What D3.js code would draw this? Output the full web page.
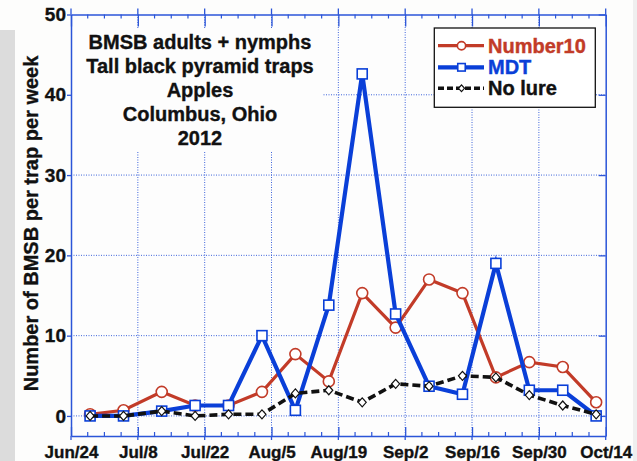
<!DOCTYPE html>
<html>
<head>
<meta charset="utf-8">
<script src="https://cdn.jsdelivr.net/npm/d3@7"></script>
<style>
  html, body { margin: 0; padding: 0; background: #fdfdfc; }
  svg { display: block; }
  text { font-family: "Liberation Sans", Arial, Helvetica, sans-serif; font-weight: bold; }
</style>
</head>
<body>
<script>
// ---- data ----
const dates = ["2012-06-28","2012-07-05","2012-07-13","2012-07-20","2012-07-27","2012-08-03","2012-08-10","2012-08-17","2012-08-24","2012-08-31","2012-09-07","2012-09-14","2012-09-21","2012-09-28","2012-10-05","2012-10-12"];
const number10 = [0.2, 0.7, 3.0, 1.3, 1.3, 3.0, 7.7, 4.3, 15.3, 11.0, 17.0, 15.3, 4.8, 6.7, 6.1, 1.7];
const mdt      = [0, 0, 0.6, 1.3, 1.3, 10.0, 0.7, 13.8, 42.6, 12.7, 3.7, 2.7, 19.0, 3.2, 3.2, 0];
const noLure   = [0, 0, 0.6, 0, 0.2, 0.2, 2.8, 3.2, 1.7, 4.0, 3.7, 5.0, 4.8, 2.6, 1.3, 0.2];
const seriesNames = ["Number10", "MDT", "No lure"];
const tickDates = ["2012-06-24","2012-07-08","2012-07-22","2012-08-05","2012-08-19","2012-09-02","2012-09-16","2012-09-30","2012-10-14"];
const tickLabels = ["Jun/24","Jul/8","Jul/22","Aug/5","Aug/19","Sep/2","Sep/16","Sep/30","Oct/14"];
const yTicks = [0, 10, 20, 30, 40, 50];
const titleLines = ["BMSB adults + nymphs", "Tall black pyramid traps", "Apples", "Columbus, Ohio", "2012"];
const yLabel = "Number of BMSB per trap per week";

// ---- setup ----
const W = 637, H = 461;
const parse = d3.utcParse("%Y-%m-%d");
const L = 71, R = 605.7, T = 14.5, B = 436;
const svg = d3.select("body").append("svg").attr("width", W).attr("height", H);

// background decorations
svg.append("rect").attr("x", 0).attr("y", 0).attr("width", W).attr("height", H).attr("fill", "#fdfdfc");
svg.append("rect").attr("x", 0).attr("y", 30).attr("width", 15).attr("height", H - 30).attr("fill", "#dcdcdc");
svg.append("rect").attr("x", 633).attr("y", 0).attr("width", 4).attr("height", H).attr("fill", "#efefef");

const x = d3.scaleUtc().domain([parse(tickDates[0]), parse(tickDates[tickDates.length - 1])]).range([L, R]);
const y = d3.scaleLinear().domain([-2.5, 50]).range([B, T]);

const axisColor = "#2b55d8";
const gridColor = "#2b55d8";

// plot background
svg.append("rect").attr("x", L).attr("y", T).attr("width", R - L).attr("height", B - T).attr("fill", "#fdfdfd");

// grid
const grid = svg.append("g");
grid.selectAll("line.v").data(tickDates.slice(1, -1)).join("line")
  .attr("x1", d => x(parse(d))).attr("x2", d => x(parse(d)))
  .attr("y1", T).attr("y2", B)
  .attr("stroke", gridColor).attr("stroke-width", 1).attr("stroke-dasharray", "1,1.5").attr("opacity", 0.9);
grid.selectAll("line.h").data(yTicks.slice(0, -1)).join("line")
  .attr("x1", L).attr("x2", R)
  .attr("y1", d => y(d)).attr("y2", d => y(d))
  .attr("stroke", gridColor).attr("stroke-width", 1).attr("stroke-dasharray", "1,1.5").attr("opacity", 0.9);

// title block background (covers grid)
svg.append("rect").attr("x", 72).attr("y", 28).attr("width", 250).attr("height", 124).attr("fill", "#fdfdfd");

// axes
function styleAxis(g) {
  g.select(".domain").attr("stroke", axisColor).attr("stroke-width", 1.5);
  g.selectAll(".tick line").attr("stroke", axisColor).attr("stroke-width", 1.3);
  g.selectAll("text").attr("fill", "#111").attr("stroke", "#111").attr("stroke-width", 0.35)
    .style("font-family", "'Liberation Sans', Arial, sans-serif").style("font-weight", "bold");
}
const dt = tickDates.map(parse);
svg.append("g").attr("transform", `translate(0,${B})`)
  .call(d3.axisBottom(x).tickValues(dt).tickFormat((d, i) => tickLabels[i]).tickSize(-9).tickSizeOuter(0).tickPadding(10))
  .call(styleAxis).call(g => g.selectAll("text").attr("font-size", 17));
svg.append("g").attr("transform", `translate(0,${T})`)
  .call(d3.axisTop(x).tickValues(dt).tickFormat("").tickSize(-12).tickSizeOuter(0))
  .call(styleAxis);
svg.append("g").attr("transform", `translate(${L},0)`)
  .call(d3.axisLeft(y).tickValues(yTicks).tickSize(4).tickSizeOuter(0).tickPadding(1))
  .call(styleAxis).call(g => g.selectAll("text").attr("font-size", 19));
svg.append("g").attr("transform", `translate(${R},0)`)
  .call(d3.axisRight(y).tickValues(yTicks).tickFormat("").tickSize(-7).tickSizeOuter(0))
  .call(styleAxis);

// major tick outward stubs on bottom/top
svg.append("g").selectAll("line").data(dt).join("line")
  .attr("x1", d => x(d)).attr("x2", d => x(d)).attr("y1", B).attr("y2", B + 4)
  .attr("stroke", axisColor).attr("stroke-width", 1.3);
svg.append("g").selectAll("line").data(dt).join("line")
  .attr("x1", d => x(d)).attr("x2", d => x(d)).attr("y1", T).attr("y2", T - 6)
  .attr("stroke", axisColor).attr("stroke-width", 1.3);

// minor ticks (quarters between majors)
const minor = [];
for (let i = 0; i < dt.length - 1; i++) for (let k = 1; k < 4; k++) minor.push(d3.utcHour.offset(dt[i], 84 * k));
[[B, -4], [T, 4]].forEach(([yy, len]) => {
  svg.append("g").selectAll("line").data(minor).join("line")
    .attr("x1", d => x(d)).attr("x2", d => x(d)).attr("y1", yy).attr("y2", yy + len)
    .attr("stroke", axisColor).attr("stroke-width", 1.2);
});

// series
const red = "#c23b28", blue = "#0a3fd8", black = "#111";
const line = d3.line().x(d => x(d[0])).y(d => y(d[1]));
const mk = vals => dates.map((d, i) => [parse(d), vals[i]]);
const series = [
  { name: seriesNames[0], data: mk(number10), color: red, width: 3.2, dash: null, marker: "circle" },
  { name: seriesNames[1], data: mk(mdt), color: blue, width: 4.2, dash: null, marker: "square" },
  { name: seriesNames[2], data: mk(noLure), color: black, width: 3.6, dash: "8,4", marker: "diamond" }
];
function drawMarker(g, type, cx, cy, color, s) {
  if (type === "circle") g.append("circle").attr("cx", cx).attr("cy", cy).attr("r", 5.5 * s).attr("fill", "#fff").attr("stroke", color).attr("stroke-width", 1.6);
  else if (type === "square") g.append("rect").attr("x", cx - 5 * s).attr("y", cy - 5 * s).attr("width", 10 * s).attr("height", 10 * s).attr("fill", "#fff").attr("stroke", color).attr("stroke-width", 1.6);
  else g.append("path").attr("d", `M${cx},${cy - 4.5 * s}L${cx + 4 * s},${cy}L${cx},${cy + 4.5 * s}L${cx - 4 * s},${cy}Z`).attr("fill", "#fff").attr("stroke", color).attr("stroke-width", 1.2);
}
series.forEach(s => {
  const g = svg.append("g");
  g.append("path").datum(s.data).attr("d", line).attr("fill", "none")
    .attr("stroke", s.color).attr("stroke-width", s.width).attr("stroke-dasharray", s.dash).attr("stroke-linejoin", "miter");
  s.data.forEach(d => drawMarker(g, s.marker, x(d[0]), y(d[1]), s.color, 1));
});

// title
const tg = svg.append("g");
titleLines.forEach((t, i) => {
  tg.append("text").attr("x", 200).attr("y", 49 + i * 24).attr("text-anchor", "middle")
    .attr("font-size", 20).attr("fill", "#111").attr("stroke", "#111").attr("stroke-width", 0.35).text(t);
});

// legend
const lg = svg.append("g");
lg.append("rect").attr("x", 434.3).attr("y", 28).attr("width", 161).attr("height", 79.3)
  .attr("fill", "#fff").attr("stroke", "#111").attr("stroke-width", 1.3);
const rowY = [45.7, 67.3, 88.3];
series.forEach((s, i) => {
  lg.append("line").attr("x1", 438).attr("x2", 484).attr("y1", rowY[i]).attr("y2", rowY[i])
    .attr("stroke", s.color).attr("stroke-width", s.width).attr("stroke-dasharray", s.dash ? "6,3" : null);
  drawMarker(lg, s.marker, 461.5, rowY[i], s.color, 0.75);
  const c = s.color === black ? "#111" : s.color;
  lg.append("text").attr("x", 488).attr("y", rowY[i] + 7).attr("font-size", 20)
    .attr("fill", c).attr("stroke", c).attr("stroke-width", 0.4).text(s.name);
});

// y label
svg.append("text").attr("transform", "translate(38,223.5) rotate(-90)").attr("text-anchor", "middle")
  .attr("font-size", 20).attr("fill", "#111").attr("stroke", "#111").attr("stroke-width", 0.35).text(yLabel);
</script>
</body>
</html>
